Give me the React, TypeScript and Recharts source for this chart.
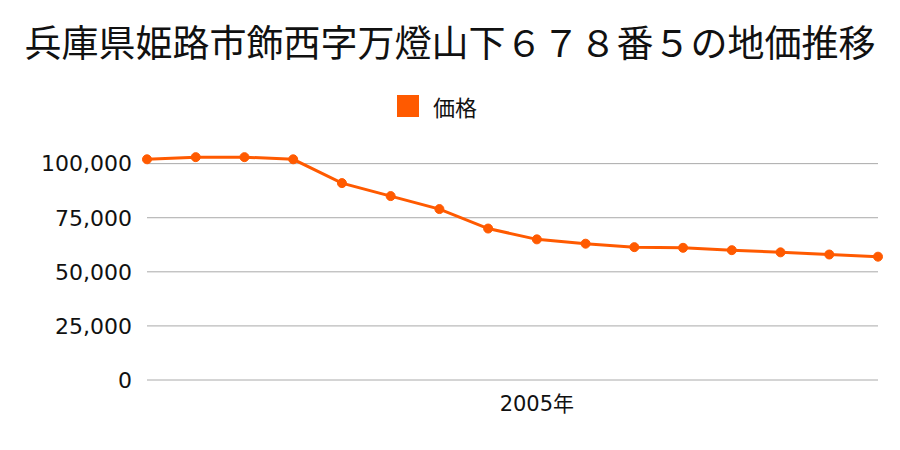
import { LineChart, Line, XAxis, YAxis, CartesianGrid } from 'recharts';

// 1997年〜2012年 (ラベルは2005年のみ表示)
const years = ['1997', '1998', '1999', '2000', '2001', '2002', '2003', '2004', '2005', '2006', '2007', '2008', '2009', '2010', '2011', '2012'];
const prices = [102000, 103000, 103000, 102000, 91000, 85000, 79000, 70000, 65000, 63000, 61400, 61100, 60000, 59000, 58000, 57000];
const yTicks = [0, 25000, 50000, 75000, 100000];
const labelYear = '2005';

const title = '兵庫県姫路市飾西字万燈山下６７８番５の地価推移';
const seriesName = '価格';
const color = '#ff5a00';
const font = '"Noto Sans CJK JP", "Noto Sans", sans-serif';
const tickFont = '"DejaVu Sans", "Noto Sans CJK JP", sans-serif';

const data = years.map((y, i) => ({ year: y, price: prices[i] }));

export default function App() {
    return (
        <div style={{ position: 'absolute', left: 0, top: 0, width: 900, height: 450, background: '#fff', fontFamily: font }}>
            <div style={{ position: 'absolute', left: 0, top: 14, width: 900, textAlign: 'center', fontSize: 37, color: '#111', whiteSpace: 'nowrap' }}>
                {title}
            </div>
            <div style={{ position: 'absolute', left: 397, top: 90, display: 'flex', alignItems: 'center', gap: 14 }}>
                <div style={{ width: 22, height: 22, background: color }}></div>
                <span style={{ fontSize: 22, color: '#111' }}>{seriesName}</span>
            </div>
            <LineChart
                width={900}
                height={450}
                data={data}
                margin={{ top: 142, right: 22, left: 0, bottom: 40 }}
                style={{ position: 'absolute', left: 0, top: 0 }}
            >
                <CartesianGrid vertical={false} horizontalValues={yTicks} stroke="#aaaaaa" strokeWidth={1} />
                <XAxis
                    dataKey="year"
                    interval={0}
                    axisLine={false}
                    tickLine={false}
                    tickMargin={10}
                    tick={{ fill: '#111', fontSize: 21, fontFamily: tickFont }}
                    tickFormatter={(v: string) => (v === labelYear ? `${v}年` : '')}
                />
                <YAxis
                    width={147}
                    domain={[0, 110000]}
                    ticks={yTicks}
                    axisLine={false}
                    tickLine={false}
                    tickMargin={9}
                    tick={{ fill: '#111', fontSize: 22, fontFamily: tickFont }}
                    tickFormatter={(v: number) => v.toLocaleString('en-US')}
                />
                <Line
                    type="linear"
                    dataKey="price"
                    name={seriesName}
                    stroke={color}
                    strokeWidth={3}
                    dot={{ r: 4.5, fill: color, stroke: color, strokeWidth: 1 }}
                    isAnimationActive={false}
                />
            </LineChart>
        </div>
    );
}
